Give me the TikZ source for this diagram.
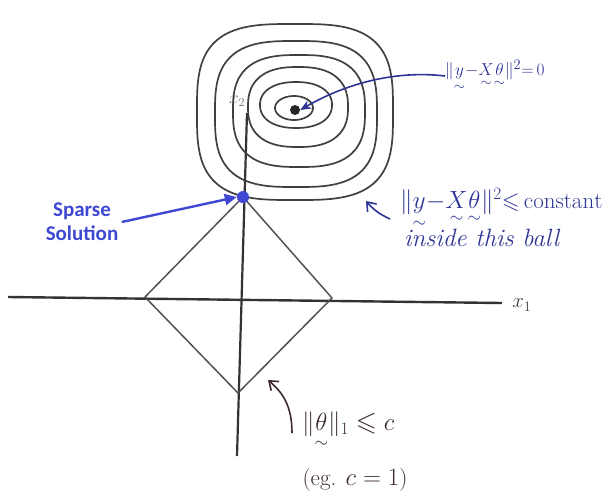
\documentclass[tikz,border=0pt]{standalone}
\usepackage{amsmath}
\usepackage{amssymb}
\usepackage{fontspec}
\usepackage{tikz}
\usetikzlibrary{arrows.meta}
\newfontfamily\calfont{Carlito}
\definecolor{inkblue}{RGB}{45,52,150}
\definecolor{dotblue}{RGB}{62,72,210}
\definecolor{inkdark}{RGB}{60,42,48}
\newcommand{\vsim}[1]{\underset{\sim}{#1}}

\begin{document}
\begin{tikzpicture}[x=1pt,y=-1pt,
  handlbl/.style={text=inkblue,inner sep=0pt},
  contour/.style={draw=black!75,line width=1.7pt},
  inkarrow/.style={draw=inkblue,line width=1.6pt}]
\useasboundingbox (0,0) rectangle (611,499);
% axes
\draw[black!80,line width=2.4pt] (8,297) -- (502,303);
\draw[black!80,line width=2.2pt] (247,113) -- (237,456);
\node[font=\fontsize{20}{22}\selectfont,text=black!75] (xone) at (522,305) {$x_1$};
\node[font=\fontsize{17}{19}\selectfont,text=black!60] (xtwo) at (237,101) {$x_2$};
% l1 ball
\coordinate (dtop) at (243,197);
\coordinate (dright) at (332,298);
\coordinate (dbot) at (238,393);
\coordinate (dleft) at (145,297);
\draw[black!68,line width=1.5pt,line join=round] (dtop) -- (dright) -- (dbot) -- (dleft) -- cycle;
% level sets of the squared error (superellipses, exponent 2/n)
\foreach \cx/\cy/\w/\h/\e in {295/112/98/88/0.62, 296/114/81/73/0.66, 299/111/66/56/0.72,
                              298/107/50/40/0.8, 296/105/36/23/0.9, 294/108/19/12/1.0}{
  \draw[contour] plot[smooth cycle,domain=2.5:357.5,samples=72]
    ({\cx+\w*sign(cos(\x))*pow(abs(cos(\x)),\e)},{\cy+\h*sign(sin(\x))*pow(abs(sin(\x)),\e)});}
\node[circle,fill=black!85,inner sep=0pt,minimum size=10pt] (ctr) at (295,110) {};
% sparse solution
\node[circle,fill=dotblue,inner sep=0pt,minimum size=12pt] (sparse) at (dtop) {};
\node[font=\calfont\bfseries\fontsize{21}{24}\selectfont,text=dotblue,align=center] (sparselbl)
  at (82,222) {Sparse\\Solution};
\draw[dotblue,line width=2.4pt,-{Triangle[length=12pt,width=11pt]}] (sparselbl.east) -- (sparse.west);
% labels
\node[handlbl,font=\fontsize{19}{22}\selectfont,anchor=west] (zerolbl) at (445,76)
  {$\|\vsim{y}{-}\vsim{X}\vsim{\theta}\|^2{=}\,0$};
\draw[inkarrow,-{Stealth[length=11pt,width=9pt]}] (zerolbl.west)
  .. controls (395,70) and (345,84) .. (ctr.east);
\node[handlbl,font=\fontsize{23}{26}\selectfont,anchor=west] (constlbl) at (400,209)
  {$\|\vsim{y}{-}\vsim{X}\vsim{\theta}\|^2{\leqslant}\,\mathrm{constant}$};
\node[handlbl,font=\fontsize{25}{28}\selectfont,anchor=west] (balllbl) at (404,238)
  {\itshape inside this ball};
\coordinate (balltip) at (366,201);
\draw[inkarrow,-{Straight Barb[length=8pt,width=12pt]}] (constlbl.west) ++(-10,10)
  to[bend left=12] (balltip);
\node[font=\fontsize{27}{29}\selectfont,text=inkdark,anchor=west,inner sep=0pt] (normlbl)
  at (302,431) {$\|\vsim{\theta}\|_1\leqslant c$};
\node[font=\fontsize{23}{26}\selectfont,text=inkdark] (eglbl) at (355,480) {(eg. $c=1$)};
\coordinate (normtip) at (268,380);
\draw[draw=inkdark,line width=1.6pt,-{Straight Barb[length=8pt,width=12pt]}] (normlbl.west) ++(-10,2)
  .. controls (292,405) and (282,392) .. (normtip);
\end{tikzpicture}
\end{document}
